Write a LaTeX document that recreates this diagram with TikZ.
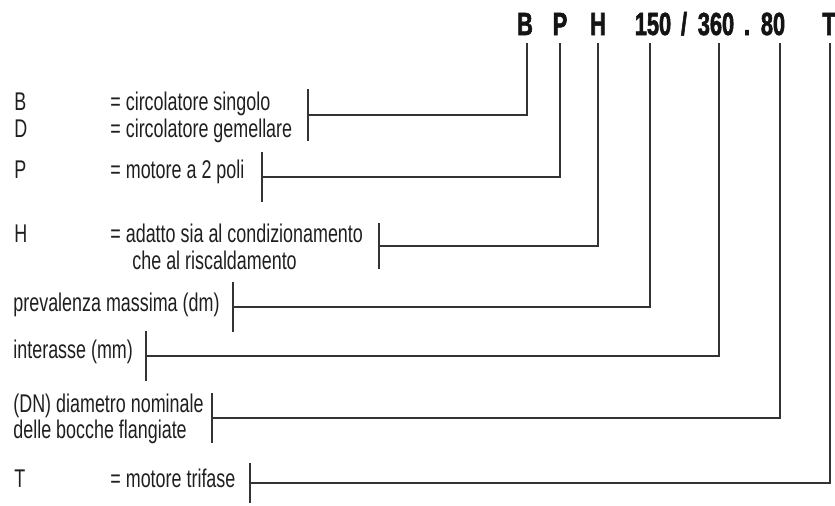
\documentclass[tikz,border=0pt]{standalone}
\usepackage{fontspec}
\setmainfont{Liberation Sans}[FakeStretch=0.70]
\newfontfamily\codefont{Liberation Sans}[FakeStretch=0.68,FakeBold=1.8]

\begin{document}
\begin{tikzpicture}[x=0.5pt,y=-0.5pt,
  lab/.style={anchor=base west,inner sep=0pt,text=black!88,
    font=\fontsize{12.8}{14}\selectfont},
  code/.style={anchor=base,inner sep=0pt,text=black!92,
    font=\codefont\bfseries\fontsize{16}{17}\selectfont},
  lead/.style={line width=0.55pt,draw=black!80}]
\useasboundingbox (0,0) rectangle (835,505);

% type code
\foreach \x/\lab/\n in {525/B/cB,560/P/cP,598/H/cH,653/150/c150,684/{/}/cSl,
  716/360/c360,747/./cDot,773/80/c80,829/T/cT}
  \node[code] (\n) at (\x,35) {\lab};

% meaning of each part
\node[lab] (kB) at (14,110) {B};
\node[lab] (dB) at (110,110) {= circolatore singolo};
\node[lab] (kD) at (14,137) {D};
\node[lab] (dD) at (110,137) {= circolatore gemellare};
\node[lab] (kP) at (14,178) {P};
\node[lab] (dP) at (110,178) {= motore a 2 poli};
\node[lab] (kH) at (14,242) {H};
\node[lab] (dH) at (110,242) {= adatto sia al condizionamento};
\node[lab] (dHb) at (132,269) {che al riscaldamento};
\node[lab] (d150) at (13,311) {prevalenza massima (dm)};
\node[lab] (d360) at (13,358) {interasse (mm)};
\node[lab] (d80) at (13,412) {(DN) diametro nominale};
\node[lab] (d80b) at (13,438) {delle bocche flangiate};
\node[lab] (kT) at (14,487) {T};
\node[lab] (dT) at (110,487) {= motore trifase};

% leaders
\foreach \n/\bx/\by/\h/\ex in {B/308/115/26/527,P/262/177/25/560,H/379/246/23/598,
  150/233/307/25/650,360/146/356/25/719,80/212/418/25/780,T/250/483/20/830}
{
  \coordinate (b\n) at (\bx,\by);
  \coordinate (e\n) at (\ex,43);
  \draw[lead] (b\n) ++(0,-\h) -- ++(0,2*\h);
  \draw[lead] (b\n) -| (e\n);
}
\end{tikzpicture}
\end{document}
